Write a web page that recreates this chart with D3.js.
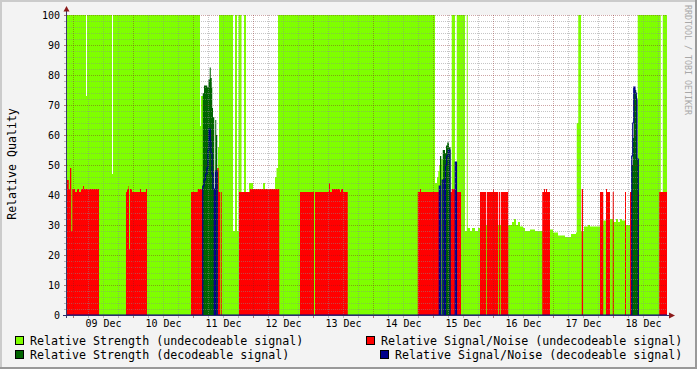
<!DOCTYPE html>
<html>
<head>
<meta charset="utf-8">
<script src="https://cdn.jsdelivr.net/npm/d3@7"></script>
<style>
  body { margin: 0; background: #f3f3f3; }
  svg { display: block; }
  text { font-family: "DejaVu Sans Mono", monospace; }
</style>
</head>
<body>
<div id="chart"></div>
<script>
// hours counted from 09 Dec 00:00, each entry = [hour, value] held until next entry (null = no data)
const END_HOUR = 237.6;

const strengthUndecodeable = [
  [-2.4,100],[5.2,73],[5.6,100],[15.6,47],[16.0,100],[50.8,63],[51.2,73],[52.0,null],
  [58.0,56],[58.4,100],[64.0,28],[64.8,100],[65.6,28],[66.2,100],[67.4,null],[68.4,100],
  [69.2,null],[70.4,44],[72.0,null],[76.0,44],[76.8,null],[80.8,46],[81.4,49],[82.0,100],
  [144.8,44],[145.6,46],[146.1,48],[146.5,50],[147.3,52],[147.9,null],[151.5,100],[152.8,null],
  [153.5,100],[156.8,28],[157.5,100],[157.9,29],[158.8,28],[159.6,29],[160.8,28],[162.0,29],
  [162.8,30],[174.1,30],[175.6,31],[176.4,32],[177.2,30],[178.0,31],[178.8,29.5],[180.0,29],
  [180.8,28],[182.8,28.5],[184.8,28],[190.8,28.5],[192.0,27.5],[194.0,26.5],[196.8,26],
  [199.2,27],[201.2,27.5],[201.5,64],[202.1,100],[203.2,28],[204.4,29.5],[206.0,30],
  [206.8,29.5],[210.8,30],[212.1,31.5],[213.2,30],[214.8,32],[216.0,31],[217.2,32],[218.0,31],
  [218.8,32],[219.6,31.5],[220.8,30],[222.8,null],[225.9,100],[235.1,null],[235.9,100]
];

const snUndecodeable = [
  [-2.4,45],[-1.7,42],[-1.2,49],[-0.7,28],[-0.3,42],[0.8,41],[1.6,42],[2.4,41],[3.2,42],
  [4.0,43],[4.4,42],[10.4,null],[21.2,41],[21.6,42],[22.2,43],[22.4,22],[22.8,42],[23.6,41],
  [26.8,42],[27.2,41],[29.2,42],[29.6,null],[47.2,41],[49.9,42],[51.9,null],[56.5,42],
  [56.9,null],[57.7,49],[58.3,41],[58.8,null],[59.1,41],[59.5,null],[66.4,41],[70.8,42],
  [82.5,null],[90.8,41],[96.4,null],[96.8,41],[102.4,44],[102.8,41],[103.6,42],[106.8,41],
  [107.2,42],[108.0,41],[109.9,null],[137.9,41],[138.8,42],[139.2,41],[146.5,null],[150.8,41],
  [151.5,42],[152.9,null],[153.5,41],[155.2,null],[162.8,41],[165.2,null],[165.5,41],[168.1,42],
  [168.4,41],[170.1,null],[170.4,41],[170.9,null],[171.2,41],[174.0,42],[174.1,null],
  [187.7,41],[188.4,42],[188.8,41],[189.2,42],[189.6,41],[190.8,null],[203.5,42],[204.0,null],
  [210.8,41],[212.1,null],[213.2,42],[213.6,41],[214.8,null],[215.9,41],[216.3,null],
  [220.8,41],[221.2,null],[222.8,41],[223.5,null],[225.9,41],[226.4,null],[234.5,41]
];

const strengthDecodeable = [
  [-2.4,null],[51.9,74],[52.4,76.5],[53.7,76],[54.2,78.5],[54.7,82.5],[55.1,79],[55.5,76],
  [55.7,69],[56.0,66],[56.5,null],[56.9,65],[57.3,60],[57.7,null],
  [146.8,53],[147.3,null],[147.9,55],[148.8,54],[149.2,56.5],[149.7,57.5],[150.4,56],[151.0,null],
  [223.5,50],[223.9,59],[224.3,76],[224.8,75],[225.3,73],[225.6,52],[226.1,null]
];

const snDecodeable = [
  [-2.4,0],[51.9,43],[52.4,45],[53.0,47],[53.6,49],[54.0,55],[54.4,62],[54.9,58],[55.2,54],
  [55.6,47],[56.0,42],[56.5,0],[57.0,48],[57.7,0],
  [146.5,43],[146.9,0],[147.7,45],[148.5,0],[149.0,50],[149.5,53],[150.1,55],[150.8,0],
  [152.9,51],[153.4,0],
  [223.5,53],[223.9,64],[224.3,76],[224.8,74],[225.3,72],[225.6,52],[226.1,0]
];

const legendLabels = [
  "Relative Strength (undecodeable signal)",
  "Relative Signal/Noise (undecodeable signal)",
  "Relative Strength  (decodeable signal)",
  "Relative Signal/Noise (decodeable signal)"
];
const colors = ["#7fff00", "#ff0000", "#006400", "#00008b"];
const yLabel = "Relative Quality";
const watermark = "RRDTOOL / TOBI OETIKER";

const width = 697, height = 369;
const marginLeft = 67, plotRight = 667, plotTop = 15, plotBottom = 315;

const base = new Date(2008, 11, 9, 0, 0);
const toDate = h => new Date(base.getTime() + h * 3600e3);

const x = d3.scaleTime()
  .domain([toDate(-2.4), toDate(END_HOUR)])
  .range([marginLeft, plotRight]);
const y = d3.scaleLinear().domain([0, 100]).range([plotBottom, plotTop]);

// turn step list into point pairs so each value is held until the next time
function expand(steps) {
  const pts = [];
  steps.forEach(([h, v], i) => {
    const h2 = i + 1 < steps.length ? steps[i + 1][0] : END_HOUR;
    pts.push({ t: toDate(h), v }, { t: toDate(h2), v });
  });
  return pts;
}

const svg = d3.select("#chart").append("svg")
  .attr("width", width).attr("height", height)
  .attr("viewBox", [0, 0, width, height]);

// frame
svg.append("rect").attr("width", width).attr("height", height).attr("fill", "#f3f3f3");
svg.append("path").attr("d", `M1,${height} V1 H${width}`).attr("stroke", "#cbcbcb").attr("stroke-width", 2).attr("fill", "none");
svg.append("path").attr("d", `M0,${height - 1} H${width - 1} V0`).attr("stroke", "#999").attr("stroke-width", 2).attr("fill", "none");

svg.append("rect")
  .attr("x", marginLeft).attr("y", plotTop)
  .attr("width", plotRight - marginLeft).attr("height", plotBottom - plotTop)
  .attr("fill", "#fff");

svg.append("clipPath").attr("id", "clip").append("rect")
  .attr("x", marginLeft).attr("y", plotTop)
  .attr("width", plotRight - marginLeft).attr("height", plotBottom - plotTop);

const plot = svg.append("g").attr("clip-path", "url(#clip)");

const area = d3.area()
  .defined(d => d.v !== null)
  .x(d => x(d.t))
  .y0(y(0))
  .y1(d => y(d.v));

plot.append("path").datum(expand(strengthUndecodeable)).attr("d", area).attr("fill", colors[0]);
plot.append("path").datum(expand(snUndecodeable)).attr("d", area).attr("fill", colors[1]);
plot.append("path").datum(expand(strengthDecodeable)).attr("d", area).attr("fill", colors[2]);

const line = d3.line().x(d => x(d.t)).y(d => y(d.v));
plot.append("path").datum(expand(snDecodeable)).attr("d", line)
  .attr("fill", "none").attr("stroke", colors[3]).attr("stroke-width", 1.2);

// grid
const grid = svg.append("g").attr("fill", "none").attr("stroke-width", 1).attr("stroke-dasharray", "1,1");
const sixHours = d3.timeHour.every(6).range(x.domain()[0], x.domain()[1]);
const days = d3.timeDay.range(x.domain()[0], x.domain()[1]);
const px = v => Math.round(v) + 0.5;

grid.selectAll(".vmin").data(sixHours.filter(d => d.getHours() !== 0)).join("line")
  .attr("x1", d => px(x(d))).attr("x2", d => px(x(d)))
  .attr("y1", plotTop).attr("y2", plotBottom)
  .attr("stroke", "rgba(140,140,140,0.5)");
grid.selectAll(".hmin").data(d3.range(2, 101, 2).filter(v => v % 10)).join("line")
  .attr("x1", marginLeft).attr("x2", plotRight)
  .attr("y1", d => px(y(d))).attr("y2", d => px(y(d)))
  .attr("stroke", "rgba(140,140,140,0.5)");
grid.selectAll(".vmaj").data(days).join("line")
  .attr("x1", d => px(x(d))).attr("x2", d => px(x(d)))
  .attr("y1", plotTop).attr("y2", plotBottom)
  .attr("stroke", "rgba(130,30,30,0.4)");
grid.selectAll(".hmaj").data(d3.range(10, 101, 10)).join("line")
  .attr("x1", marginLeft).attr("x2", plotRight)
  .attr("y1", d => px(y(d))).attr("y2", d => px(y(d)))
  .attr("stroke", "rgba(130,30,30,0.4)");

// small tick marks outside the plot
const ticks = svg.append("g").attr("stroke-width", 1);
ticks.selectAll(".xt").data(sixHours).join("line")
  .attr("x1", d => px(x(d))).attr("x2", d => px(x(d)))
  .attr("y1", plotBottom).attr("y2", plotBottom + 3)
  .attr("stroke", d => d.getHours() === 0 ? "rgba(130,30,30,0.6)" : "rgba(140,140,140,0.6)");
ticks.selectAll(".yt").data(d3.range(0, 101, 2)).join("line")
  .attr("x1", marginLeft - 3).attr("x2", marginLeft)
  .attr("y1", d => px(y(d))).attr("y2", d => px(y(d)))
  .attr("stroke", d => d % 10 ? "rgba(140,140,140,0.6)" : "rgba(130,30,30,0.6)");

// axis lines and arrows
svg.append("line").attr("x1", 66.5).attr("x2", 66.5).attr("y1", plotBottom + 3).attr("y2", 10)
  .attr("stroke", "#3a3a6a");
svg.append("line").attr("x1", 63).attr("x2", 670).attr("y1", plotBottom + 0.5).attr("y2", plotBottom + 0.5)
  .attr("stroke", "#2c2c6c");
svg.append("path").attr("d", "M63.5,11.5 L66.5,6 L69.5,11.5 Z").attr("fill", "#8b1a1a");
svg.append("path").attr("d", "M669,312.5 L675,315.5 L669,318.5 Z").attr("fill", "#8b1a1a");

// y labels
svg.append("g").attr("transform", `translate(${marginLeft - 1},0)`)
  .call(d3.axisLeft(y).tickValues(d3.range(0, 101, 10)).tickSize(0).tickPadding(6))
  .call(g => g.select(".domain").remove())
  .selectAll("text")
  .attr("font-family", "DejaVu Sans Mono").attr("font-size", "10px").attr("fill", "#000");

// x labels at noon
svg.append("g").attr("transform", `translate(0,${plotBottom})`)
  .call(d3.axisBottom(x).tickValues(days.map(d => d3.timeHour.offset(d, 12)))
    .tickFormat(d3.timeFormat("%d %b")).tickSize(0).tickPadding(5))
  .call(g => g.select(".domain").remove())
  .selectAll("text")
  .attr("font-family", "DejaVu Sans Mono").attr("font-size", "10px").attr("fill", "#000");

// y title
svg.append("text")
  .attr("transform", "translate(16,164) rotate(-90)")
  .attr("text-anchor", "middle")
  .attr("font-size", "11.6px")
  .attr("fill", "#000")
  .text(yLabel);

// watermark
svg.append("text")
  .attr("transform", "translate(685,5) rotate(90)")
  .attr("font-size", "8.3px")
  .attr("fill", "#a8a8a8")
  .text(watermark);

// legend: rows are justified, right column ends at the same edge
const legendPos = [[15.5, 336.5], [366.5, 336.5], [15.5, 350.5], [380.5, 350.5]];
const legend = svg.append("g");
legendLabels.forEach((label, k) => {
  const [lx, ly] = legendPos[k];
  legend.append("rect").attr("x", lx).attr("y", ly).attr("width", 8).attr("height", 8)
    .attr("fill", colors[k]).attr("stroke", "#000");
  legend.append("text").attr("x", lx + 14.5).attr("y", ly + 8.5)
    .attr("font-size", "11.65px").attr("fill", "#000")
    .text(label);
});
</script>
</body>
</html>
